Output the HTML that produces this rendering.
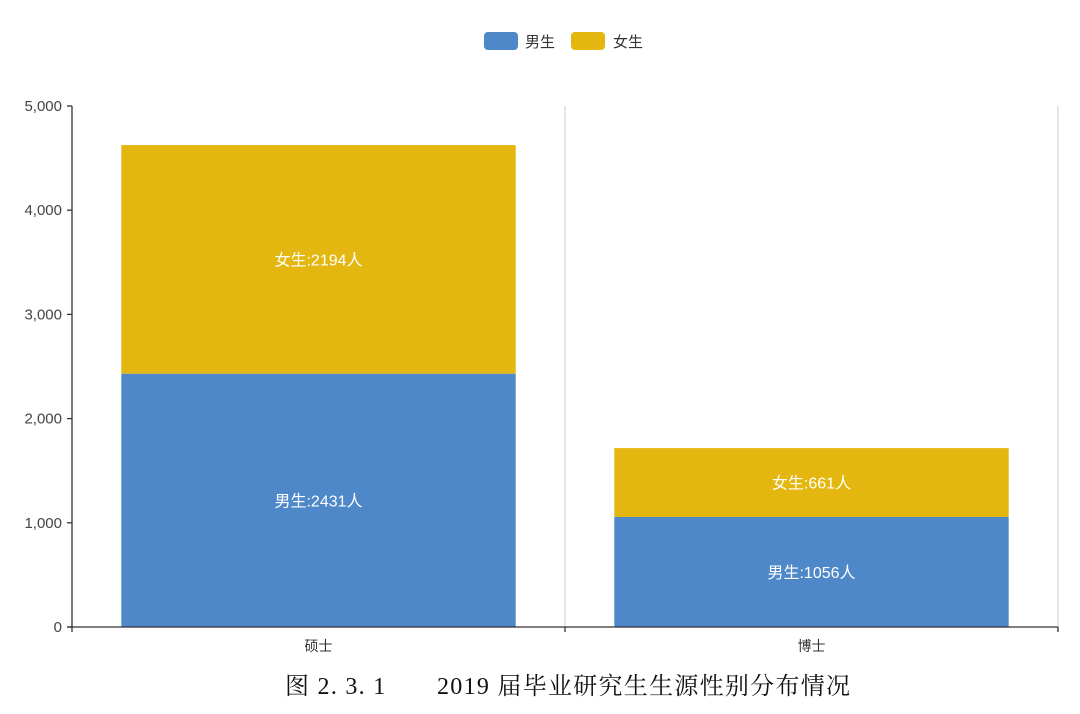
<!DOCTYPE html>
<html><head><meta charset="utf-8"><style>
body{margin:0;background:#fff;width:1080px;height:709px;overflow:hidden}
svg text{font-family:"Liberation Sans","Noto Sans CJK SC",sans-serif}
</style></head><body>
<svg id="chart" width="1080" height="709" xmlns="http://www.w3.org/2000/svg">
<g>
<g><rect x="484" y="32" width="34" height="18" rx="4" fill="#4e88c9"/><text x="525" y="47" font-size="15" fill="#333">男生</text></g>
<g><rect x="571" y="32" width="34" height="18" rx="4" fill="#e4b710"/><text x="613" y="47" font-size="15" fill="#333">女生</text></g>
</g>
<g id="grid"></g>
<g id="bars"></g>
<g id="axes"></g>
<text x="285" y="694" font-size="24" fill="#111" textLength="565" lengthAdjust="spacing" style="font-family:'Liberation Serif','Noto Serif CJK SC',serif">图 2. 3. 1　　2019 届毕业研究生生源性别分布情况</text>
</svg>
<script>
const categories=["硕士","博士"];
const maleValues=[2431,1056];
const femaleValues=[2194,661];
const yTicks=[0,1000,2000,3000,4000,5000];
const tickLabels=["0","1,000","2,000","3,000","4,000","5,000"];
const NS="http://www.w3.org/2000/svg";
const X0=72,X1=1058,Y0=627,Y1=106,YMAX=5000;
const y=v=>Y0-(v/YMAX)*(Y0-Y1);
const bw=(X1-X0)/categories.length;
const x=i=>X0+bw*i;
function mk(tag,attrs,parent){const e=document.createElementNS(NS,tag);for(const k in attrs)e.setAttribute(k,attrs[k]);parent.appendChild(e);return e;}
const grid=document.getElementById('grid'),bars=document.getElementById('bars'),axes=document.getElementById('axes');
for(let i=1;i<=categories.length;i++){const l=mk('line',{x1:x(i),x2:x(i),y1:Y1,y2:Y0,stroke:'#ccc','stroke-width':1},grid);

}
categories.forEach((c,i)=>{
 const bx=x(i)+bw*0.1,w=bw*0.8;
 const m=maleValues[i],f=femaleValues[i];
 const r1=mk('rect',{x:bx,y:y(m),width:w,height:Y0-y(m),fill:'#4e88c9'},bars);
 
 
 const r2=mk('rect',{x:bx,y:y(m+f),width:w,height:y(m)-y(m+f),fill:'#e4b710'},bars);
 
 
 const t1=mk('text',{x:bx+w/2,y:(y(m)+Y0)/2+6,'text-anchor':'middle','font-size':16,fill:'#fff'},bars);t1.textContent='男生:'+m+'人';
 
 
 const t2=mk('text',{x:bx+w/2,y:(y(m)+y(m+f))/2+6,'text-anchor':'middle','font-size':16,fill:'#fff'},bars);t2.textContent='女生:'+f+'人';
 
 
 const ct=mk('text',{x:x(i)+bw/2,y:651,'text-anchor':'middle','font-size':14,fill:'#333'},axes);ct.textContent=c;
 
 
});
mk('line',{x1:X0,x2:X0,y1:Y1,y2:Y0,stroke:'#333','stroke-width':1.3},axes);
mk('line',{x1:X0-5,x2:X1,y1:Y0,y2:Y0,stroke:'#333','stroke-width':1.3},axes);
for(let i=0;i<=categories.length;i++)mk('line',{x1:x(i),x2:x(i),y1:Y0,y2:Y0+5,stroke:'#333','stroke-width':1.3},axes);
yTicks.forEach((v,i)=>{
 mk('line',{x1:X0-5,x2:X0,y1:y(v),y2:y(v),stroke:'#333','stroke-width':1.3},axes);
 const t=mk('text',{x:X0-10,y:y(v)+5,'text-anchor':'end','font-size':15,fill:'#444'},axes);t.textContent=tickLabels[i];
 
 
});
</script>
</body></html>
